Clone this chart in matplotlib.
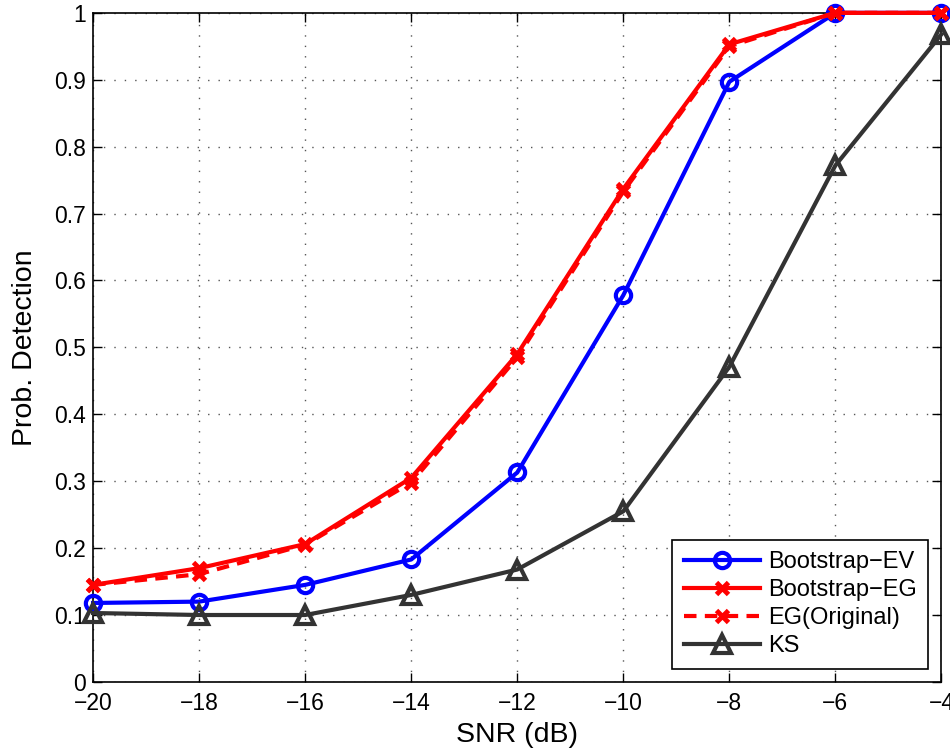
import numpy as np
import matplotlib.pyplot as plt

plt.rcParams['font.family'] = ['Liberation Sans', 'DejaVu Sans']

snr = [-20, -18, -16, -14, -12, -10, -8, -6, -4]
pd_bootstrap_ev = [0.118, 0.120, 0.145, 0.183, 0.313, 0.578, 0.897, 1.0, 1.0]
pd_bootstrap_eg = [0.145, 0.170, 0.206, 0.305, 0.490, 0.737, 0.953, 1.0, 1.0]
pd_eg_original = [0.145, 0.161, 0.205, 0.298, 0.485, 0.733, 0.950, 1.0, 1.0]
pd_ks = [0.103, 0.100, 0.100, 0.130, 0.168, 0.255, 0.471, 0.772, 0.968]

fig = plt.figure(figsize=(9.5, 7.56), dpi=100)
ax = fig.add_axes([0.098, 0.098, 0.893, 0.885])

ax.plot(snr, pd_bootstrap_ev, '-o', color='#0000ff', lw=3, ms=11, mew=3,
        mfc='none', label='Bootstrap\u2212EV', clip_on=False, zorder=3)
ax.plot(snr, pd_bootstrap_eg, '-x', color='#ff0000', lw=3, ms=9, mew=3.5,
        label='Bootstrap\u2212EG', clip_on=False, zorder=4)
ax.plot(snr, pd_eg_original, '--x', color='#ff0000', lw=3, ms=9, mew=3.5,
        dashes=(3, 2), label='EG(Original)', clip_on=False, zorder=4)
ax.plot(snr, pd_ks, '-^', color='#333333', lw=3, ms=13, mew=3,
        mfc='none', label='KS', clip_on=False, zorder=3)

ax.set_xlim(-20, -4)
ax.set_ylim(0, 1)
ax.set_xticks(np.arange(-20, -3, 2))
ax.set_yticks(np.arange(0, 1.01, 0.1))
ax.set_yticklabels(['0', '0.1', '0.2', '0.3', '0.4', '0.5', '0.6', '0.7',
                    '0.8', '0.9', '1'])
ax.grid(True, ls=(0, (1, 6.5)), color='#555555', lw=1)
ax.tick_params(direction='in', top=True, right=True, labelsize=16.5,
               length=6.5, width=1)
ax.tick_params(axis='x', pad=7)
ax.tick_params(axis='y', pad=5)
for s in ax.spines.values():
    s.set_linewidth(1.2)

ax.set_xlabel('SNR (dB)', fontsize=20.5, labelpad=5)
ax.set_ylabel('Prob. Detection', fontsize=20.5, labelpad=12)

leg = ax.legend(loc='lower right', fontsize=17, fancybox=False,
                edgecolor='black', framealpha=1, handlelength=3.2,
                borderaxespad=0.55, labelspacing=0.25, handletextpad=0.35,
                borderpad=0.5)
leg.get_frame().set_linewidth(1.2)

fig.savefig('out.png', dpi=100)
